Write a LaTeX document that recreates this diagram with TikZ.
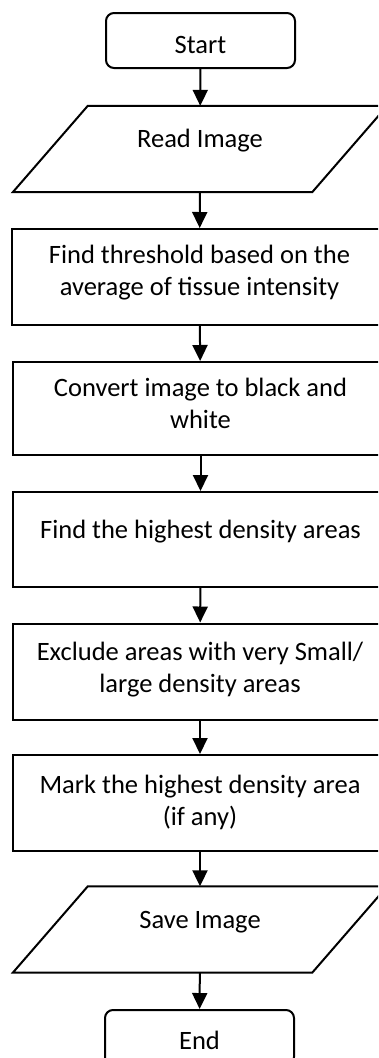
\documentclass[tikz,border=0pt]{standalone}
\usepackage{fontspec}
\setmainfont{Carlito}
\usetikzlibrary{arrows.meta}

\begin{document}
\begin{tikzpicture}[x=1pt,y=1pt,yscale=-1,xscale=1,
  every node/.style={font=\fontsize{26.5}{32}\selectfont},
  term/.style={draw,line width=2pt,rounded corners=8pt,minimum width=189pt,minimum height=55pt,inner sep=0pt},
  proc/.style={draw,line width=2pt,minimum width=375pt,minimum height=95pt,inner sep=0pt,align=center},
  io/.style={minimum width=299pt,minimum height=86pt,inner sep=0pt},
  ioline/.style={line width=2pt,line join=miter},
  arr/.style={line width=2pt,-{Triangle[length=16pt,width=15pt]}}]
\useasboundingbox (0,0) rectangle (378,1058);
\clip (0,0) rectangle (378,1058);

%Shape: Rounded Rectangle
\node[term,text height=25pt,text depth=0pt] (start) at (200.5,40.5) {Start};

%Shape: Parallelogram
\node[io,text height=17pt,text depth=21pt] (read) at (200,149) {Read Image};
\draw[ioline] ([xshift=-37.5pt]read.south west) -- ([xshift=-37.5pt]read.south east) -- ([xshift=37.5pt]read.north east) -- ([xshift=37.5pt]read.north west) -- cycle ;

%Shape: Rectangle
\node[proc,minimum height=96pt,text height=50pt,text depth=14pt] (thres) at (199.5,277) {Find threshold based on the\\average of tissue intensity};
%Shape: Rectangle
\node[proc,minimum height=93pt,text height=50pt,text depth=11pt] (conv) at (200.5,408.5) {Convert image to black and\\white};
%Shape: Rectangle
\node[proc,text height=17pt,text depth=20pt] (dens) at (200.5,539.5) {Find the highest density areas};
%Shape: Rectangle
\node[proc,minimum height=96pt,text height=52pt,text depth=11pt] (excl) at (200,671.5) {Exclude areas with very Small/\\large density areas};
%Shape: Rectangle
\node[proc,minimum height=96pt,text height=54pt,text depth=10pt] (mark) at (200,803) {Mark the highest density area\\(if any)};

%Shape: Parallelogram
\node[io,text height=17pt,text depth=20pt] (save) at (200,929.5) {Save Image};
\draw[ioline] ([xshift=-37.5pt]save.south west) -- ([xshift=-37.5pt]save.south east) -- ([xshift=37.5pt]save.north east) -- ([xshift=37.5pt]save.north west) -- cycle ;

%Shape: Rounded Rectangle
\node[term,text height=23pt,text depth=0pt] (end) at (199.5,1037.5) {End};

%Straight Lines
\draw[arr] (start) -- (read) ;
\draw[arr] (read) -- (thres) ;
\draw[arr] (thres) -- (conv) ;
\draw[arr] (conv) -- (dens) ;
\draw[arr] (dens) -- (excl) ;
\draw[arr] (excl) -- (mark) ;
\draw[arr] (mark) -- (save) ;
\draw[arr] (save) -- (end) ;

\end{tikzpicture}
\end{document}
